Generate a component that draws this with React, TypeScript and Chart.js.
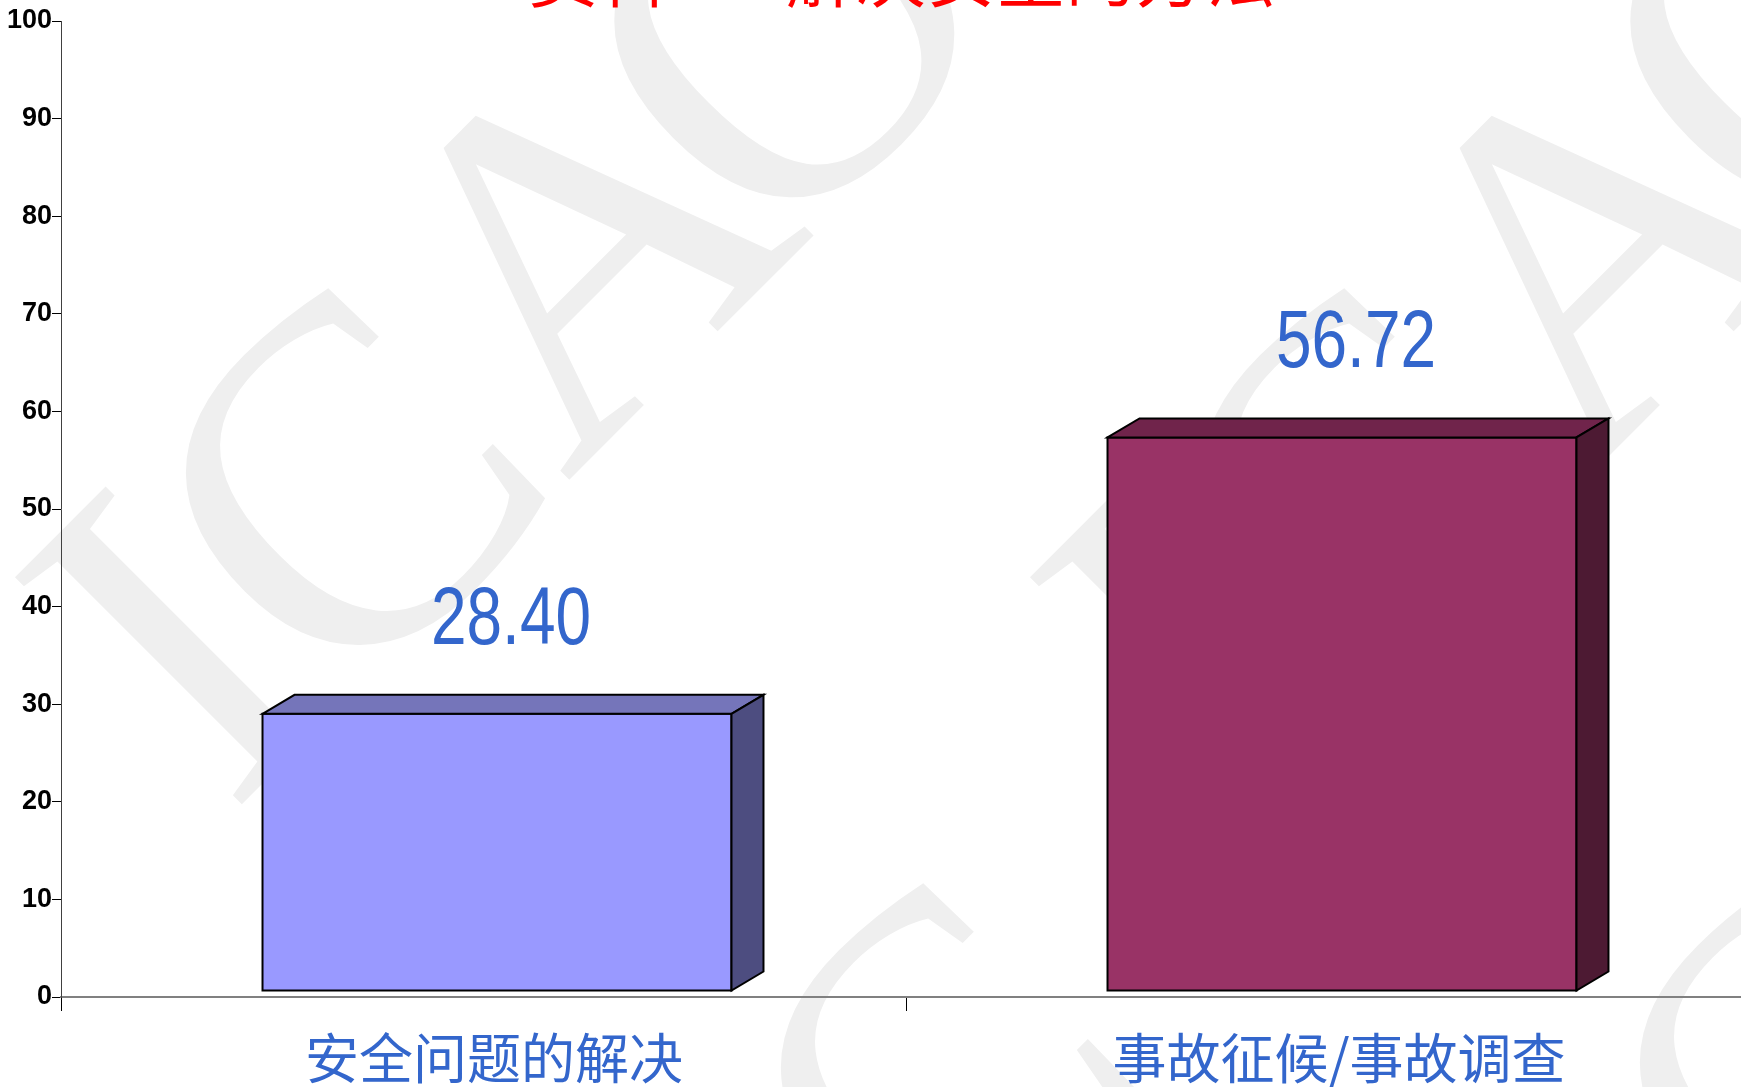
import React, { useEffect, useRef } from 'react';
import { Chart, registerables } from 'chart.js';

Chart.register(...registerables);

const categories = ['安全问题的解决', '事故征候/事故调查'];
const values = [28.4, 56.72];
const valueLabels = ['28.40', '56.72'];
const yMin = 0;
const yMax = 100;
const yStep = 10;
const titleText = '资料——解决安全的方法';
const frontColors = ['#9999FF', '#993366'];
const topColors = ['#7575BA', '#70244B'];
const sideColors = ['#4D4D80', '#4D1A33'];
const watermarkLetters = ['I', 'C', 'A', 'O', 'I', 'C', 'A', 'O', 'C', 'C'];

const OFF_X = 13.5;
const LIFT = 6;
const DEPTH_X = 32;
const DEPTH_Y = 19;

// watermark letter centres (page pixels)
const WM_POS: number[][] = [
  [196, 668], [366, 510], [600, 267], [807, 50],
  [1211, 668], [1382, 510], [1616, 267], [1823, 50],
  [961, 1105], [1820, 1100],
];

const watermarkPlugin = {
  id: 'watermark',
  beforeDraw(chart: any) {
    const ctx = chart.ctx;
    ctx.save();
    ctx.fillStyle = '#EFEFEF';
    ctx.font = '490px "Liberation Serif", "DejaVu Serif", serif';
    ctx.textBaseline = 'middle';
    ctx.textAlign = 'center';
    WM_POS.forEach(([ox, oy], i) => {
      ctx.save();
      ctx.translate(ox, oy);
      ctx.rotate(-Math.PI / 4);
      ctx.fillText(watermarkLetters[i], 0, 0);
      ctx.restore();
    });
    ctx.restore();
    // title (cut off at top)
    ctx.save();
    ctx.fillStyle = '#FF0000';
    ctx.font = '70px "Noto Sans CJK SC", sans-serif';
    ctx.textAlign = 'center';
    ctx.textBaseline = 'alphabetic';
    ctx.fillText(titleText, 902, 2);
    ctx.restore();
  },
};

const bars3dPlugin = {
  id: 'bars3d',
  afterDatasetsDraw(chart: any) {
    const ctx = chart.ctx;
    const meta = chart.getDatasetMeta(0);
    meta.data.forEach((el: any, i: number) => {
      const { x, y, base, width } = el.getProps(['x', 'y', 'base', 'width'], true);
      const x0 = x - width / 2 + OFF_X;
      const x1 = x0 + width;
      const yt = y - LIFT;
      const yb = base - LIFT;
      ctx.save();
      ctx.lineWidth = 2;
      ctx.strokeStyle = '#000000';
      ctx.lineJoin = 'miter';
      // front
      ctx.beginPath();
      ctx.rect(x0, yt, width, yb - yt);
      ctx.fillStyle = frontColors[i];
      ctx.fill();
      ctx.stroke();
      // top
      ctx.beginPath();
      ctx.moveTo(x0, yt);
      ctx.lineTo(x0 + DEPTH_X, yt - DEPTH_Y);
      ctx.lineTo(x1 + DEPTH_X, yt - DEPTH_Y);
      ctx.lineTo(x1, yt);
      ctx.closePath();
      ctx.fillStyle = topColors[i];
      ctx.fill();
      ctx.stroke();
      // side
      ctx.beginPath();
      ctx.moveTo(x1, yt);
      ctx.lineTo(x1 + DEPTH_X, yt - DEPTH_Y);
      ctx.lineTo(x1 + DEPTH_X, yb - DEPTH_Y);
      ctx.lineTo(x1, yb);
      ctx.closePath();
      ctx.fillStyle = sideColors[i];
      ctx.fill();
      ctx.stroke();
      ctx.restore();

      // value label
      ctx.save();
      ctx.fillStyle = '#3366CC';
      ctx.font = '82px "Liberation Sans", Arial, sans-serif';
      ctx.textAlign = 'center';
      ctx.textBaseline = 'alphabetic';
      const cx = x0 + width / 2 + 14;
      ctx.translate(cx, y - 76);
      ctx.scale(0.78, 1);
      ctx.fillText(valueLabels[i], 0, 0);
      ctx.restore();

      // category label
      ctx.save();
      ctx.fillStyle = '#3366CC';
      ctx.font = '54px "Noto Sans CJK SC", sans-serif';
      ctx.textAlign = 'center';
      ctx.textBaseline = 'middle';
      ctx.fillText(categories[i], x0 + width / 2 - 3, 1058);
      ctx.restore();
    });
  },
};

export default function App() {
  const ref = useRef<HTMLCanvasElement | null>(null);
  useEffect(() => {
    document.body.style.margin = '0';
    document.body.style.overflow = 'hidden';
    if (!ref.current) return;
    const chart = new Chart(ref.current, {
      type: 'bar',
      data: {
        labels: categories,
        datasets: [
          {
            data: values,
            backgroundColor: 'rgba(0,0,0,0)',
            borderWidth: 0,
            barPercentage: 0.555,
            categoryPercentage: 1,
          },
        ],
      },
      options: {
        responsive: false,
        animation: false,
        devicePixelRatio: 1,
        layout: { padding: { left: 0, top: 21, right: 9, bottom: 0 } },
        plugins: {
          legend: { display: false },
          tooltip: { enabled: false },
          title: { display: false },
        },
        scales: {
          x: {
            offset: true,
            grid: {
              offset: true,
              drawOnChartArea: false,
              drawTicks: true,
              tickLength: 14,
              color: '#000000',
              lineWidth: 1,
            },
            border: { display: true, color: '#808080', width: 2 },
            ticks: { display: false },
            afterFit(scale: any) {
              scale.height = 90;
            },
          },
          y: {
            min: yMin,
            max: yMax,
            grid: {
              drawOnChartArea: false,
              drawTicks: true,
              tickLength: 9,
              color: '#000000',
              lineWidth: 1,
            },
            border: { display: true, color: '#404040', width: 1 },
            ticks: {
              stepSize: yStep,
              padding: 0,
              color: '#000000',
              font: { family: '"Liberation Sans", Arial, sans-serif', size: 27, weight: 'bold' },
            },
            afterFit(scale: any) {
              scale.width = 61;
            },
          },
        },
      },
      plugins: [watermarkPlugin, bars3dPlugin],
    } as any);
    return () => chart.destroy();
  }, []);
  return (
    <div style={{ position: 'fixed', left: 0, top: 0, width: 1741, height: 1087, overflow: 'hidden', background: '#FFFFFF' }}>
      <canvas ref={ref} width={1760} height={1087} style={{ width: 1760, height: 1087, display: 'block' }} />
    </div>
  );
}
